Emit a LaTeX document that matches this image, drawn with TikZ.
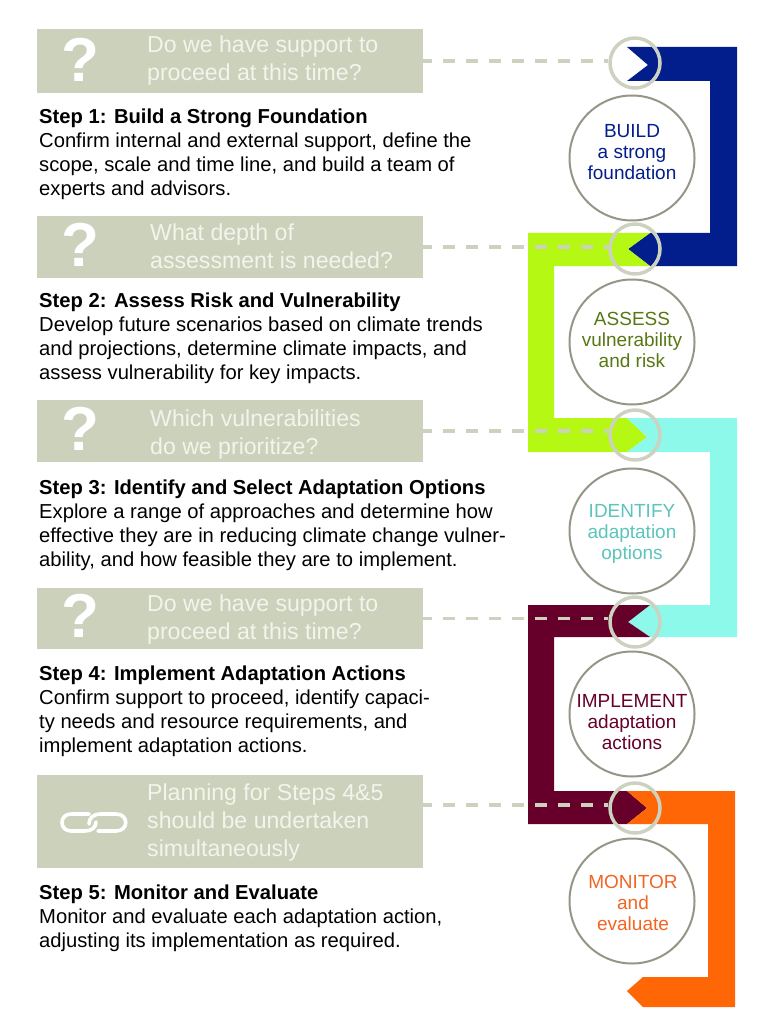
\documentclass[tikz,border=0pt]{standalone}
\usepackage{fontspec}
\setmainfont{Liberation Sans}
\definecolor{boxgrey}{RGB}{204,209,188}
\definecolor{ringgrey}{RGB}{205,209,192}
\definecolor{circgrey}{RGB}{150,150,136}
\definecolor{labelwhite}{RGB}{243,244,236}
\definecolor{buildblue}{RGB}{2,30,140}
\definecolor{assessgreen}{RGB}{181,248,20}
\definecolor{identifycyan}{RGB}{140,249,234}
\definecolor{implementred}{RGB}{102,0,42}
\definecolor{monitororange}{RGB}{255,102,6}
\definecolor{assesstext}{RGB}{88,120,20}
\definecolor{identifytext}{RGB}{92,196,188}
\definecolor{monitortext}{RGB}{243,101,35}
\tikzset{
 qbox/.style={fill=boxgrey,inner sep=0pt,minimum width=386pt},
 qlabel/.style={anchor=west,align=left,inner sep=0pt,text=labelwhite,
  font=\fontsize{23.1}{28}\selectfont},
 qmark/.style={text=white,inner sep=0pt,
  font=\fontsize{62}{62}\selectfont\bfseries},
 steptext/.style={anchor=north west,align=left,inner sep=0pt,
  font=\fontsize{20.2}{24}\selectfont},
 bigcirc/.style={circle,draw=circgrey,line width=2pt,fill=white,
  minimum size=125pt,inner sep=0pt},
 circtext/.style={align=center,inner sep=0pt,font=\fontsize{19}{21}\selectfont},
 smallring/.style={circle,draw=ringgrey,line width=3.5pt,
  minimum size=50pt,inner sep=0pt},
 dashlink/.style={draw=ringgrey,line width=3.4pt,
  dash pattern=on 12pt off 11pt,dash phase=3pt,line cap=butt},
 chainlink/.style={draw=white,line width=3.6pt}
}
\begin{document}
\begin{tikzpicture}[x=1pt,y=-1pt,line cap=round,line join=round]
 \useasboundingbox (0,0) rectangle (764,1024);
 % ribbon
 \fill[buildblue] (627,47)--(737,47)--(737,266)--(650,266)--(628,249)
  --(650,233)--(710,233)--(710,81)--(627,81)--(648,65)--cycle;
 \fill[assessgreen] (528,233)--(650,233)--(628,249)--(650,266)--(554,266)
  --(554,418)--(627,418)--(647,437)--(627,452)--(528,452)--cycle;
 \fill[identifycyan] (627,418)--(737,418)--(737,637)--(650,637)--(628,622)
  --(650,605)--(710,605)--(710,452)--(627,452)--(647,437)--cycle;
 \fill[implementred] (528,605)--(650,605)--(628,622)--(650,637)--(554,637)
  --(554,791)--(627,791)--(647,808)--(627,824)--(528,824)--cycle;
 \fill[monitororange] (627,791)--(735,791)--(735,1007)--(643,1007)--(627,991)
  --(643,977)--(708,977)--(708,824)--(627,824)--(647,808)--cycle;
 % question boxes
 \node[qbox,minimum height=64pt] (qa) at (230,61) {};
 \node[qbox,minimum height=62pt] (qb) at (230,247) {};
 \node[qbox,minimum height=62pt] (qc) at (230,431) {};
 \node[qbox,minimum height=61pt] (qd) at (230,618.5) {};
 \node[qbox,minimum height=93pt] (qe) at (230,821.5) {};
 \node[qmark] (marka) at (80,60) {?};
 \node[qmark] (markb) at (80,245) {?};
 \node[qmark] (markc) at (80,429) {?};
 \node[qmark] (markd) at (80,616) {?};
 \node[qlabel] (labela) at (147,60.5) {Do we have support to\\proceed at this time?};
 \node[qlabel] (labelb) at (150,246) {What depth of\\assessment is needed?};
 \node[qlabel] (labelc) at (150,435) {Which vulnerabilities\\do we prioritize?};
 \node[qlabel] (labeld) at (147,620) {Do we have support to\\proceed at this time?};
 \node[qlabel] (labele) at (147,823) {Planning for Steps 4\&5\\should be undertaken\\simultaneously};
 % chain icon
 \draw[chainlink] (89,814)--(71,814) .. controls (59,814) and (59,831) .. (71,831)
  --(85,831) .. controls (92,831) and (96,827) .. (96,822);
 \draw[chainlink] (89,824) .. controls (89,818) and (93,814) .. (101,814)
  --(116,814) .. controls (129,814) and (129,831) .. (116,831)--(98,831);
 % rings and circles
 \node[smallring] (ringa) at (635,63) {};
 \node[smallring] (ringb) at (635,249) {};
 \node[smallring] (ringc) at (635,435) {};
 \node[smallring] (ringd) at (635,622) {};
 \node[smallring] (ringe) at (635,808) {};
 \node[bigcirc] (build) at (632,158) {};
 \node[bigcirc] (assess) at (632,342) {};
 \node[bigcirc] (identify) at (632,531) {};
 \node[bigcirc] (implement) at (632,714) {};
 \node[bigcirc] (monitor) at (632,901) {};
 \node[circtext,text=buildblue] (buildtext) at (632,152.5) {BUILD\\a strong\\foundation};
 \node[circtext,text=assesstext] (assesstext) at (632,340) {ASSESS\\vulnerability\\and risk};
 \node[circtext,text=identifytext] (identifytext) at (632,534) {IDENTIFY\\adaptation\\options};
 \node[circtext,text=implementred] (implementtext) at (632,722) {IMPLEMENT\\adaptation\\actions};
 \node[circtext,text=monitortext] (monitortext) at (633,903) {MONITOR\\and\\evaluate};
 % dashes from box to ring
 \coordinate (qeout) at (423,805);
 \draw[dashlink] (qa.east)--(qa.east -| ringa.west);
 \draw[dashlink] (qb.east)--(qb.east -| ringb.west);
 \draw[dashlink] (qc.east)--(qc.east -| ringc.west);
 \draw[dashlink] (qd.east)--(qd.east -| ringd.west);
 \draw[dashlink] (qeout)--(qeout -| ringe.west);
 % step texts
 \node[steptext] (stepa) at (39,108.5) {\textbf{Step 1: Build a Strong Foundation}\\
  Confirm internal and external support, define the\\
  scope, scale and time line, and build a team of\\
  experts and advisors.};
 \node[steptext] (stepb) at (39,293) {\textbf{Step 2: Assess Risk and Vulnerability}\\
  Develop future scenarios based on climate trends\\
  and projections, determine climate impacts, and\\
  assess vulnerability for key impacts.};
 \node[steptext] (stepc) at (39,480) {\textbf{Step 3: Identify and Select Adaptation Options}\\
  Explore a range of approaches and determine how\\
  effective they are in reducing climate change vulner-\\
  ability, and how feasible they are to implement.};
 \node[steptext] (stepd) at (39,666) {\textbf{Step 4: Implement Adaptation Actions}\\
  Confirm support to proceed, identify capaci-\\
  ty needs and resource requirements, and\\
  implement adaptation actions.};
 \node[steptext] (stepe) at (39,885) {\textbf{Step 5: Monitor and Evaluate}\\
  Monitor and evaluate each adaptation action,\\
  adjusting its implementation as required.};
\end{tikzpicture}
\end{document}
